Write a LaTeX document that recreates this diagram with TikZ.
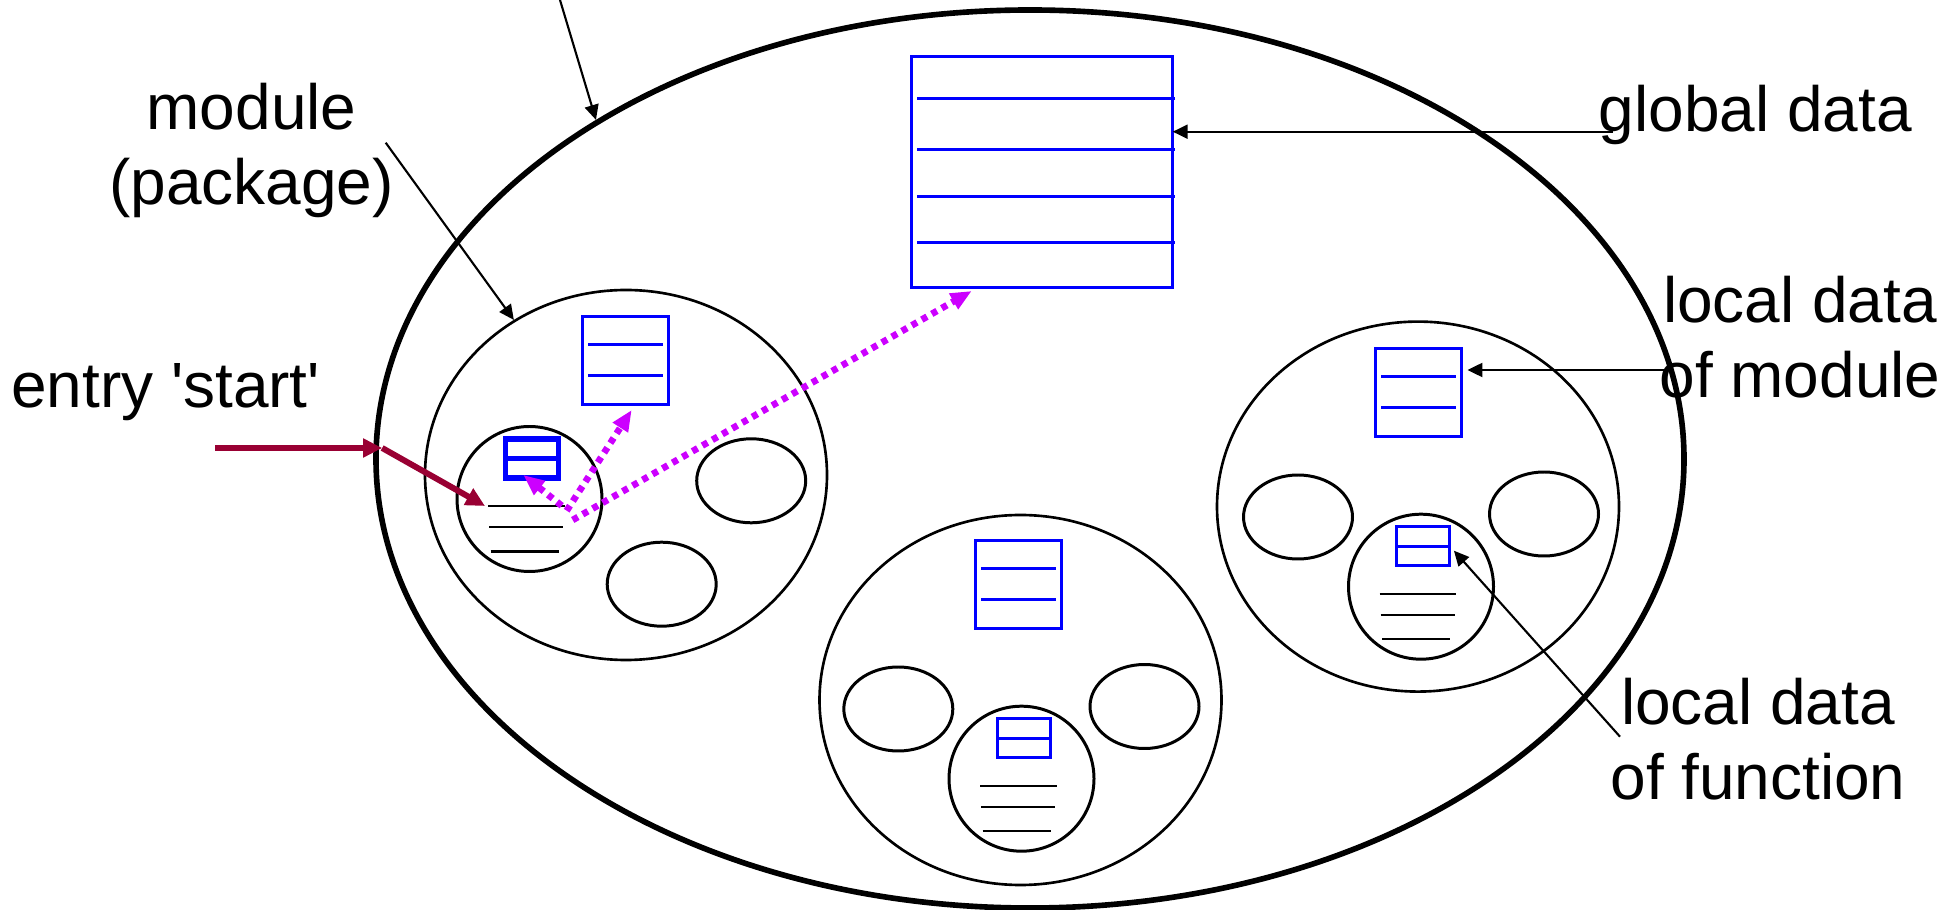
\documentclass[tikz,border=0pt]{standalone}
\usepackage{fontspec}
\newfontfamily\lblfont{Liberation Sans}
\usetikzlibrary{shapes,arrows.meta,positioning,calc}
\definecolor{entryred}{RGB}{153,0,51}
\definecolor{callpink}{RGB}{204,0,255}

\begin{document}
\begin{tikzpicture}[
        lbl/.style={font=\lblfont\fontsize{18.2}{21.5}\selectfont, inner sep=0pt, align=center},
        pointer/.style={line width=0.6pt, -{Triangle[length=1.5mm,width=1.4mm]}},
        progfig/.style={ellipse, draw, line width=1.6pt, minimum width=13.08cm, minimum height=8.98cm, inner sep=0pt},
        modfig/.style={ellipse, draw, line width=0.75pt, minimum width=4.02cm, minimum height=3.7cm, inner sep=0pt},
        subfig/.style={ellipse, draw, line width=0.85pt, minimum width=1.09cm, minimum height=0.84cm, inner sep=0pt},
        funfig/.style={circle, draw, line width=0.85pt, minimum size=1.45cm, inner sep=0pt},
        databox/.style={rectangle, draw=blue, line width=0.85pt, inner sep=0pt, outer sep=0pt},
        dataline/.style={blue, line width=0.85pt},
        codeline/.style={line width=0.65pt},
        entryarrow/.style={entryred, line width=1.7pt, -{Triangle[length=1.9mm,width=1.8mm]}},
        callarrow/.style={callpink, line width=1.9pt, dash pattern=on 0.6mm off 0.55mm, -{Triangle[length=2.1mm,width=1.7mm]}}
    ]
        \useasboundingbox (0,0) rectangle (19.57,-9.10);

        % program, modules and the functions inside them
        \node[progfig] (prog) at (10.30,-4.59) {};
        \node[modfig] (mod1) at (6.26,-4.75) {};
        \node[modfig] (mod2) at (10.205,-7.00) {};
        \node[modfig] (mod3) at (14.18,-5.066) {};
        \node[subfig] (sub11) at (7.512,-4.808) {};
        \node[subfig] (sub12) at (6.617,-5.842) {};
        \node[subfig] (sub21) at (8.983,-7.09) {};
        \node[subfig] (sub22) at (11.445,-7.065) {};
        \node[subfig] (sub31) at (12.98,-5.17) {};
        \node[subfig] (sub32) at (15.44,-5.14) {};
        \node[funfig] (fun1) at (5.295,-4.99) {};
        \node[funfig] (fun2) at (10.215,-7.787) {};
        \node[funfig] (fun3) at (14.21,-5.867) {};

        % data blocks
        \node[databox, minimum width=2.61cm, minimum height=2.306cm] (gbox) at (10.422,-1.72) {};   % global data
        \node[databox, minimum width=0.86cm, minimum height=0.88cm] (mbox1) at (6.253,-3.605) {};
        \node[databox, minimum width=0.86cm, minimum height=0.88cm] (mbox2) at (10.184,-5.847) {};
        \node[databox, minimum width=0.86cm, minimum height=0.88cm] (mbox3) at (14.184,-3.925) {};
        \node[databox, line width=1.5pt, minimum width=0.53cm, minimum height=0.39cm] (fbox1) at ([shift={(0.024,0.405)}]fun1.center) {};
        \node[databox, minimum width=0.53cm, minimum height=0.39cm] (fbox2) at ([shift={(0.024,0.405)}]fun2.center) {};
        \node[databox, minimum width=0.53cm, minimum height=0.39cm] (fbox3) at ([shift={(0.024,0.405)}]fun3.center) {};

        \foreach \y in {0.733,0.223,-0.243,-0.707}
            \draw[dataline] ([shift={(-1.249,\y)}]gbox.center) -- ++(2.574,0);
        \foreach \b in {mbox1,mbox2,mbox3}
            \foreach \y in {0.16,-0.147}
                \draw[dataline] ([shift={(-0.37,\y)}]\b.center) -- ++(0.75,0);
        \draw[dataline, line width=1.3pt] (fbox1.west) -- (fbox1.east);
        \draw[dataline] (fbox2.west) -- (fbox2.east);
        \draw[dataline] (fbox3.west) -- (fbox3.east);

        % code lines of each function
        \foreach \f in {fun1,fun2,fun3} {
            \draw[codeline] ([shift={(-0.415,-0.07)}]\f.center) coordinate (\f-code) -- ++(0.767,0);
            \draw[codeline] ([shift={(-0.405,-0.283)}]\f.center) -- ++(0.74,0);
            \draw[codeline] ([shift={(-0.388,-0.524)}]\f.center) -- ++(0.68,0);
        }

        % labels (base = last line)
        \node[lbl, anchor=base] (modlbl) at (2.515,-2.05) {module\\(package)};
        \node[lbl, anchor=base west] (entrylbl) at (0.105,-4.073) {entry 'start'};
        \node[lbl, anchor=base west] (globlbl) at (15.98,-1.317) {global data};
        \node[lbl, anchor=base] (lmodlbl) at (18.00,-3.98) {local data\\of module};
        \node[lbl, anchor=base] (lfunlbl) at (17.58,-8.00) {local data\\of function};

        % pointers from the labels
        \coordinate (progptr) at (5.60,0);
        \coordinate (modptr) at (3.857,-1.427);
        \coordinate (lmodptr) at (16.667,-3.70);
        \coordinate (lfunptr) at (16.20,-7.367);
        \draw[pointer] (progptr) -- (prog.142.7);                                  % arrow onto the program
        \draw[pointer] (modptr) -- (mod1);                                          % arrow onto module
        \draw[pointer] ([xshift=1.5mm]globlbl.base west) -- (gbox.east |- globlbl.base);
        \draw[pointer] (lmodptr) -- ([xshift=0.6mm]mbox3.east |- lmodptr);
        \draw[pointer, shorten >=0.6mm] (lfunptr) -- (fbox3.east);

        % entry into the first function
        \coordinate (entryptr) at (2.15,-4.48);
        \draw[entryarrow] (entryptr) -- ([xshift=0.9mm]prog.west |- entryptr) coordinate (entryin);
        \draw[entryarrow] (entryin) -- ([xshift=-0.3mm]fun1-code);

        % accesses from the function to the data
        \draw[callarrow] ([shift={(0.322,-0.067)}]fun1.center) -- ([shift={(-0.086,0.03)}]fbox1.south);
        \draw[callarrow] ([shift={(0.372,-0.117)}]fun1.center) -- ([shift={(0.064,-0.055)}]mbox1.south);
        \draw[callarrow] ([shift={(0.432,-0.21)}]fun1.center) -- ([shift={(0.60,-0.037)}]gbox.south west);
\end{tikzpicture}
\end{document}
